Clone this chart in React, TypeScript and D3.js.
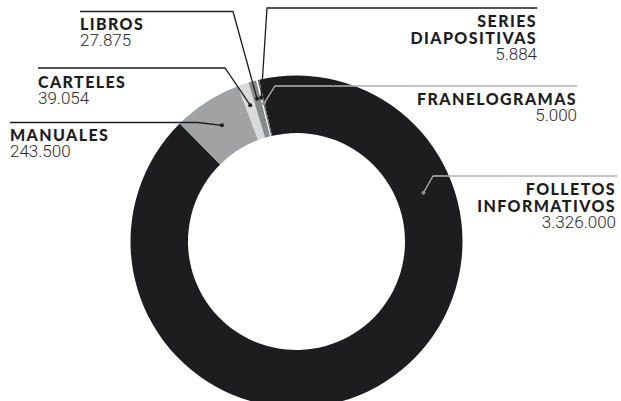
import React from "react";
import * as d3 from "d3";

// Material counts (clockwise from the big slice)
const categories = ["FOLLETOS INFORMATIVOS", "MANUALES", "CARTELES", "LIBROS", "SERIES DIAPOSITIVAS", "FRANELOGRAMAS"];
const values = [3326000, 243500, 39054, 27875, 5884, 5000];
const nameLines = [["FOLLETOS", "INFORMATIVOS"], ["MANUALES"], ["CARTELES"], ["LIBROS"], ["SERIES", "DIAPOSITIVAS"], ["FRANELOGRAMAS"]];
const colors = ["#1d1c1e", "#a1a2a4", "#d9dadb", "#88898b", "#efefef", "#5a5a5c"];

// label layout: text anchor/position, leader line y and elbow x
const labelLayout = [
  { anchor: "end", x: 616, y: 195, lineY: 176, lineEnd: 617, elbowX: 433, dotR: 136, dotAngle: 69, light: true },
  { anchor: "start", x: 10, y: 141, lineY: 122.5, lineEnd: 10, elbowX: 198, dotR: 138, light: false },
  { anchor: "start", x: 38, y: 87.5, lineY: 68, lineEnd: 38, elbowX: 225, dotR: 144, light: false },
  { anchor: "start", x: 80, y: 30, lineY: 11.5, lineEnd: 80, elbowX: 233, dotR: 148, light: false },
  { anchor: "end", x: 537, y: 27, lineY: 8, lineEnd: 537, elbowX: 267, dotR: 148, light: false },
  { anchor: "end", x: 577, y: 105, lineY: 86, lineEnd: 577, elbowX: 275, dotR: 142, light: true },
];

const W = 621;
const H = 401;
const cx = 296.5;
const cy = 241.5;
const outerR = 166;
const innerR = 108.5;
const startDeg = -13;

const fmt = d3.formatLocale({ decimal: ",", thousands: ".", grouping: [3], currency: ["", ""] }).format(",");

export default function App() {
  const rad = (deg: number) => (deg * Math.PI) / 180;
  const pie = d3.pie<number>().sort(null).startAngle(rad(startDeg)).endAngle(rad(startDeg) + 2 * Math.PI);
  const arcs = pie(values);
  const arc = d3.arc<d3.PieArcDatum<number>>().innerRadius(innerR).outerRadius(outerR);

  const boldFont = "Lato, 'DejaVu Sans', sans-serif";
  const numFont = "Roboto, 'Liberation Sans', sans-serif";

  return (
    <svg width={W} height={H} style={{ position: "fixed", left: 0, top: 0, background: "#fff" }}>
      <g transform={`translate(${cx},${cy})`}>
        {arcs.map((a, i) => (
          <path key={categories[i]} d={arc(a) || ""} fill={colors[i]} />
        ))}
      </g>
      {arcs.map((a, i) => {
        const L = labelLayout[i];
        const ang = L.dotAngle !== undefined ? rad(L.dotAngle) : (a.startAngle + a.endAngle) / 2;
        const dx = cx + L.dotR * Math.sin(ang);
        const dy = cy - L.dotR * Math.cos(ang);
        const stroke = L.light ? "#b4b4b6" : "#1d1c1e";
        const dotFill = L.light ? "#8e8e90" : "#1d1c1e";
        return (
          <g key={"lab" + i}>
            <polyline
              points={`${L.lineEnd},${L.lineY} ${L.elbowX},${L.lineY} ${dx},${dy}`}
              fill="none"
              stroke={stroke}
              strokeWidth={1.3}
            />
            <circle cx={dx} cy={dy} r={2} fill={dotFill} />
            {nameLines[i].map((t, j) => (
              <text
                key={t}
                x={L.x}
                y={L.y + j * 16.5}
                textAnchor={L.anchor}
                fontFamily={boldFont}
                fontWeight={900}
                fontSize={16}
                letterSpacing={1.4}
                fill="#1d1c1e"
              >
                {t}
              </text>
            ))}
            <text
              x={L.x}
              y={L.y + nameLines[i].length * 16.5 - 0.5}
              textAnchor={L.anchor}
              fontFamily={numFont}
              fontWeight={300}
              fontSize={17}
              fill="#2a2a2c"
            >
              {fmt(values[i])}
            </text>
          </g>
        );
      })}
    </svg>
  );
}
